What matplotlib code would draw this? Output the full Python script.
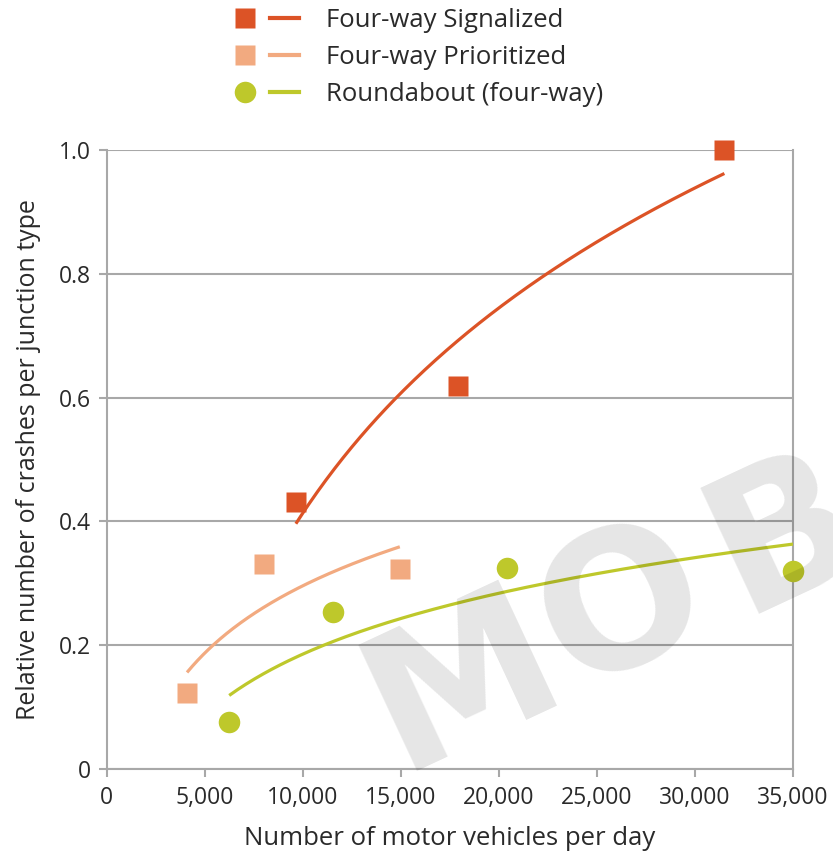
import numpy as np
import matplotlib
matplotlib.use("Agg")
import matplotlib.pyplot as plt
from matplotlib.lines import Line2D
from matplotlib.legend_handler import HandlerTuple
from matplotlib.ticker import FuncFormatter

plt.rcParams['font.family'] = ['Open Sans', 'DejaVu Sans']

## data
series_names = ['Four-way Signalized', 'Four-way Prioritized', 'Roundabout (four-way)']
signal_x = [9650, 17900, 31500]
signal_y = [0.431, 0.619, 1.0]
prio_x = [4100, 8050, 14950]
prio_y = [0.123, 0.331, 0.323]
round_x = [6250, 11550, 20400, 35000]
round_y = [0.076, 0.254, 0.325, 0.32]

colors = ['#dc5326', '#f2aa80', '#bec82b']
markers = ['s', 's', 'o']
msizes = [14, 14, 15.5]

x_ticks = np.arange(0, 35001, 5000)
y_ticks = [0, 0.2, 0.4, 0.6, 0.8, 1.0]

fig = plt.figure(figsize=(8.33, 8.58), dpi=100)
ax = fig.add_axes([0.128, 0.1037, 0.824, 0.7215])

handles = []
for xs, ys, c, m, ms in zip([signal_x, prio_x, round_x], [signal_y, prio_y, round_y],
                            colors, markers, msizes):
    xs = np.array(xs, dtype=float)
    ys = np.array(ys, dtype=float)
    ## logarithmic trend line, like the spreadsheet one
    a, b = np.polyfit(np.log(xs), ys, 1)
    xx = np.linspace(xs.min(), xs.max(), 200)
    ax.plot(xx, a * np.log(xx) + b, color=c, lw=2.3, zorder=3, solid_capstyle='butt')
    ax.plot(xs, ys, ls='none', marker=m, ms=ms, color=c, mec='none', zorder=4, clip_on=False)
    h_marker = Line2D([], [], ls='none', marker=m, ms=ms, color=c, mec='none')
    h_line = Line2D([], [], color=c, lw=3)
    handles.append((h_marker, h_line))

ax.set_xlim(0, 35000)
ax.set_ylim(0, 1.0)
ax.set_xticks(x_ticks)
ax.set_yticks(y_ticks)
ax.xaxis.set_major_formatter(FuncFormatter(lambda v, p: '{:,.0f}'.format(v)))
ax.yaxis.set_major_formatter(FuncFormatter(lambda v, p: '0' if v == 0 else '{:.1f}'.format(v)))
ax.grid(axis='y', color='#a8a8a8', lw=1.5, zorder=1)
ax.set_axisbelow(True)
for s in ['left', 'right', 'bottom']:
    ax.spines[s].set_color('#a8a8a8')
    ax.spines[s].set_linewidth(1.5)
ax.spines['top'].set_visible(False)
ax.tick_params(axis='both', colors='#a8a8a8', length=6, width=1.5, labelsize=16.5,
               labelcolor='#2a2a2a')
ax.tick_params(axis='x', pad=6)
ax.tick_params(axis='y', pad=5)

ax.set_xlabel('Number of motor vehicles per day', fontsize=18.5, color='#2a2a2a', labelpad=12)
ax.set_ylabel('Relative number of crashes per junction type', fontsize=18, color='#2a2a2a',
              labelpad=13)

fig.legend(handles, series_names, handler_map={tuple: HandlerTuple(ndivide=None, pad=0.4)},
           loc='upper left', bbox_to_anchor=(0.276, 0.991), frameon=False, fontsize=18.5,
           handlelength=2.7, handletextpad=1.05, labelspacing=0.47, borderpad=0,
           borderaxespad=0, labelcolor='#2a2a2a')

## watermark, one letter at a time so the spacing is wide
for letter, px, py in zip('MOB', [0.556, 0.748, 0.942], [0.203, 0.291, 0.376]):
    fig.text(px, py, letter, fontsize=137, fontweight='bold', family='DejaVu Sans',
             color='black', alpha=0.1, rotation=25,
             ha='center', va='center', zorder=10)

fig.savefig('out.png', dpi=100)
